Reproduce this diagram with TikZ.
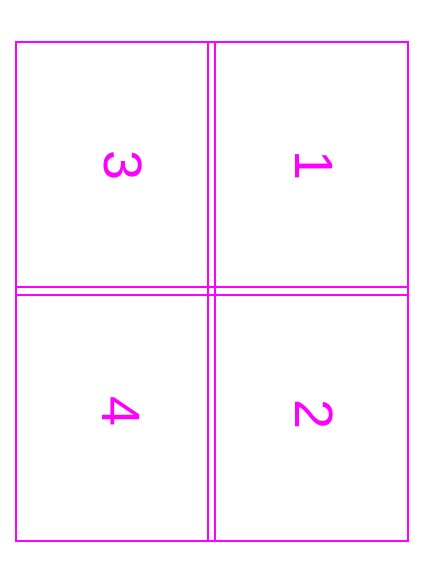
\documentclass[tikz,border=0pt]{standalone}
\usepackage{fontspec}
\setmainfont{Liberation Sans}
\usetikzlibrary{positioning}
\definecolor{panelpink}{RGB}{255,0,255}

\begin{document}
\begin{tikzpicture}[x=1pt,y=-1pt,
  panel/.style={draw=panelpink,line width=1.6pt,rectangle,inner sep=0pt},
  num/.style={text=panelpink,rotate=-90,font=\fontsize{54}{60}\selectfont,inner sep=0pt}]
\useasboundingbox (0,0) rectangle (429,573);
\node[panel,minimum width=199pt,minimum height=253pt] (p3) at (115.5,168.5) {};
\node[panel,minimum width=200pt,minimum height=253pt] (p1) at (308,168.5) {};
\node[panel,minimum width=199pt,minimum height=254pt] (p4) at (115.5,414) {};
\node[panel,minimum width=200pt,minimum height=254pt] (p2) at (308,414) {};
\node[num] (n3) at (123,166) {3};
\node[num] (n1) at (314,166) {1};
\node[num] (n4) at (121.5,412) {4};
\node[num] (n2) at (314,414.5) {2};
\end{tikzpicture}
\end{document}
